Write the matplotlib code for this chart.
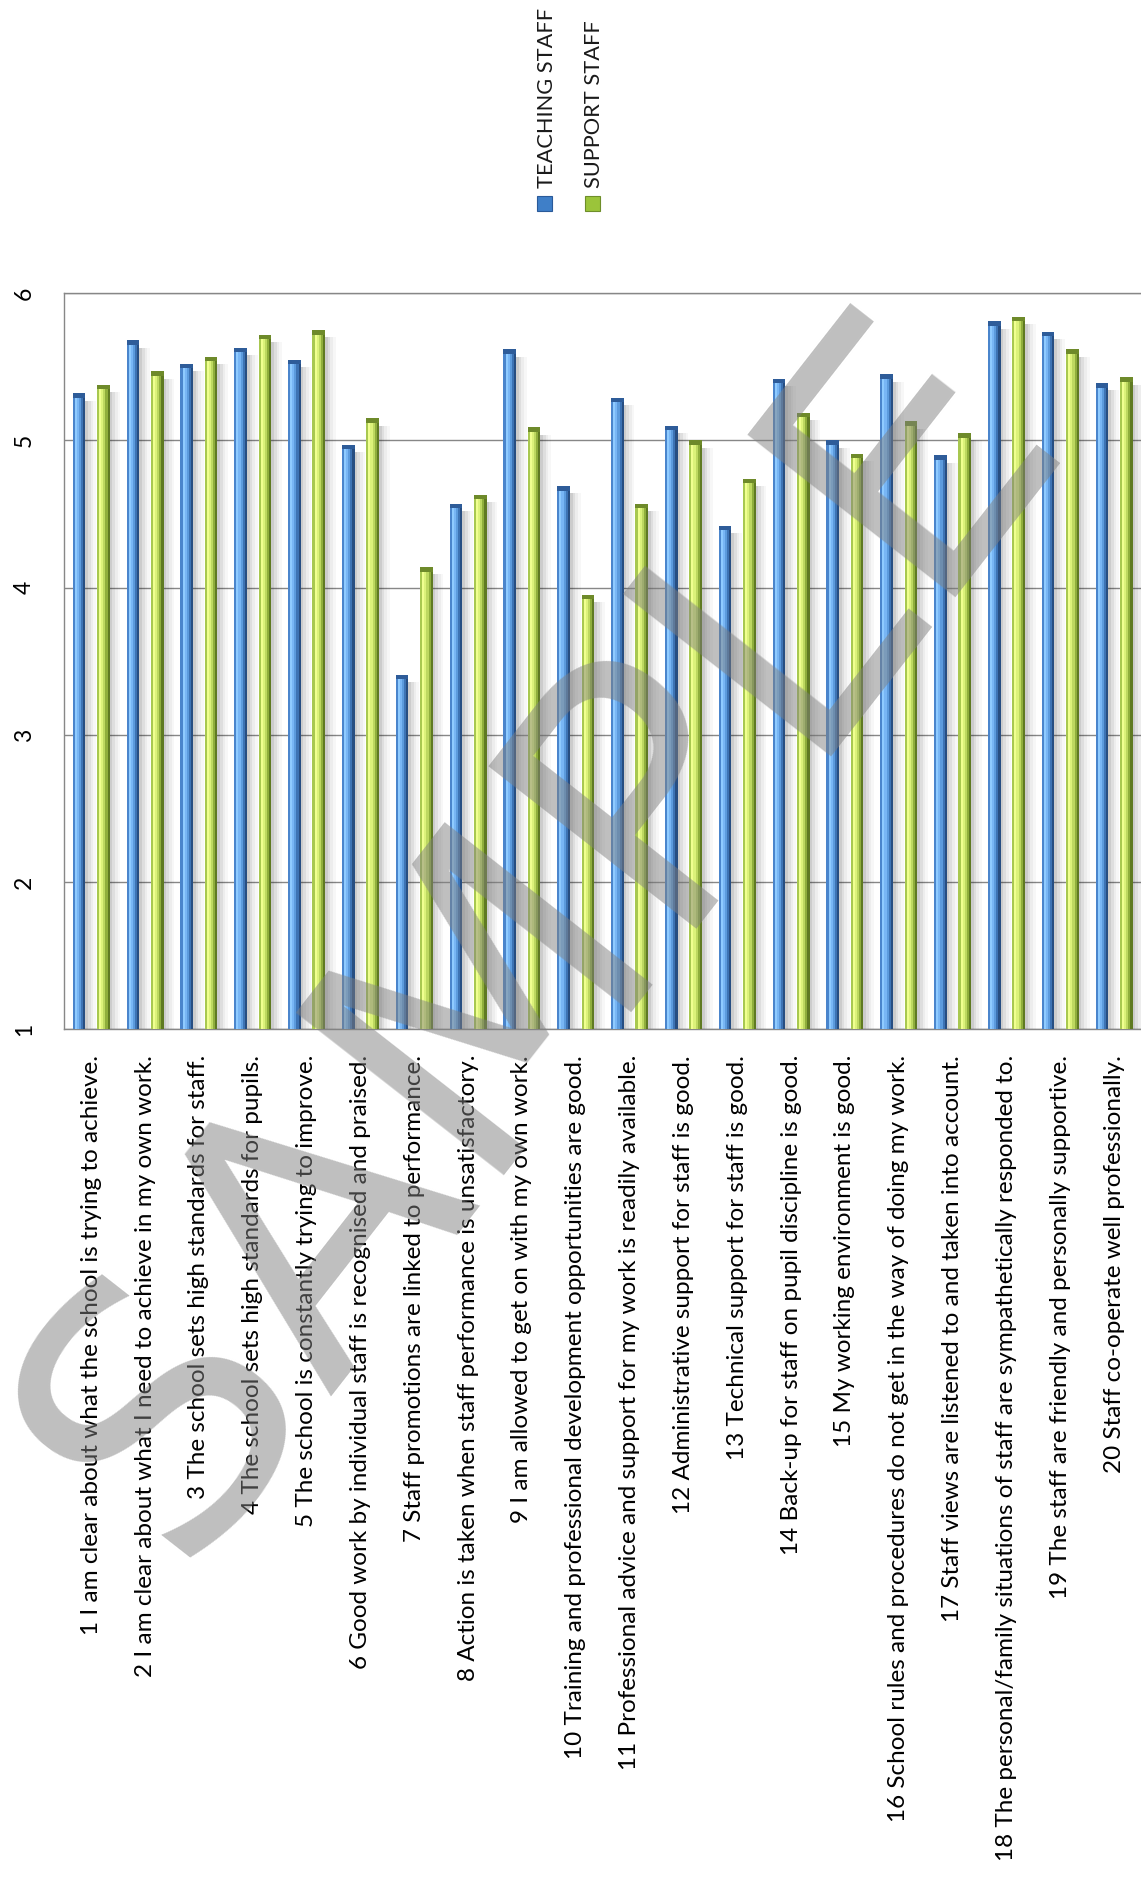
import numpy as np
import matplotlib
matplotlib.use('Agg')
import matplotlib.pyplot as plt
from matplotlib.patches import Rectangle

# survey statements (x axis) and mean scores for both groups
categories = [
    "1 I am clear about what the school is trying to achieve.",
    "2 I am clear about what I need to achieve in my own work.",
    "3 The school sets high standards for staff.",
    "4 The school sets high standards for pupils.",
    "5 The school is constantly trying to improve.",
    "6 Good work by individual staff is recognised and praised.",
    "7 Staff promotions are linked to performance.",
    "8 Action is taken when staff performance is unsatisfactory.",
    "9 I am allowed to get on with my own work.",
    "10 Training and professional development opportunities are good.",
    "11 Professional advice and support for my work is readily available.",
    "12 Administrative support for staff is good.",
    "13 Technical support for staff is good.",
    "14 Back-up for staff on pupil discipline is good.",
    "15 My working environment is good.",
    "16 School rules and procedures do not get in the way of doing my work.",
    "17 Staff views are listened to and taken into account.",
    "18 The personal/family situations of staff are sympathetically responded to.",
    "19 The staff are friendly and personally supportive.",
    "20 Staff co-operate well professionally.",
]
teaching = [5.32, 5.68, 5.52, 5.63, 5.55, 4.97, 3.41, 4.57, 5.62, 4.69,
            5.29, 5.10, 4.42, 5.42, 5.00, 5.45, 4.90, 5.81, 5.74, 5.39]
support = [5.38, 5.47, 5.57, 5.72, 5.75, 5.15, 4.14, 4.63, 5.09, 3.95,
           4.57, 5.00, 4.74, 5.19, 4.91, 5.13, 5.05, 5.84, 5.62, 5.43]
series_names = ["TEACHING STAFF", "SUPPORT STAFF"]
y_ticks = [1, 2, 3, 4, 5, 6]

W, H, DPI = 1141, 1879, 100
fig = plt.figure(figsize=(W / DPI, H / DPI), dpi=DPI)
ax_left, ax_top, ax_bot = 64.3, 293.3, 1029.3
ax = fig.add_axes([ax_left / W, 1 - ax_bot / H, 1 - ax_left / W, (ax_bot - ax_top) / H])

LABEL_FONT = ['Lato', 'DejaVu Sans']
GRID = '#878787'

# bar look: vertical strips from left to right + dark top cap
blue_cols = ['#4A85CC', '#8FCBFF', '#78B6F5', '#5C9BDD', '#3D73B4', '#274E82']
green_cols = ['#A8C850', '#F0FF90', '#DCF27A', '#BDD860', '#8FAE3C', '#5F7A22']
caps = ['#2E5C99', '#6E8A2A']

x = np.arange(len(categories))
BAR_W = 0.235
OFF = 0.226


def draw_series(xc, vals, cols, cap):
    vals = np.asarray(vals)
    n = len(cols)
    w = BAR_W / n
    # soft shadow to the right
    sw = 0.05
    for k, a in enumerate([0.20, 0.13, 0.07, 0.03]):
        ax.bar(xc + BAR_W / 2 + (k + 0.5) * sw, vals - 1 - 0.05, bottom=1,
               width=sw, color='k', alpha=a, linewidth=0, zorder=2)
    for k, c in enumerate(cols):
        ax.bar(xc - BAR_W / 2 + (k + 0.5) * w, vals - 1, bottom=1, width=w,
               color=c, linewidth=0, zorder=3)
    ax.bar(xc, 0.03, bottom=vals - 0.03, width=BAR_W, color=cap,
           linewidth=0, zorder=4)


draw_series(x - OFF, teaching, blue_cols, caps[0])
draw_series(x + OFF, support, green_cols, caps[1])

ax.set_xlim(-0.5, len(categories) - 0.5)
ax.set_ylim(1, 6)
ax.set_yticks(y_ticks)
ax.yaxis.grid(True, color=GRID, linewidth=1.0, zorder=1)
ax.set_axisbelow(True)
for s in ['left', 'bottom', 'top']:
    ax.spines[s].set_color(GRID)
    ax.spines[s].set_linewidth(1.0)
ax.spines['right'].set_visible(False)

# fit label font so that the longest label matches the reference length
fig.canvas.draw()
rend = fig.canvas.get_renderer()


def fit_size(text, target_px, family):
    t = fig.text(0, 0, text, fontsize=10, family=family)
    w = t.get_window_extent(rend).width
    t.remove()
    return 10 * target_px / w


lab_fs = fit_size(categories[17], 807, LABEL_FONT)
ax.set_xticks(x)
ax.set_xticklabels(categories, rotation=90, fontsize=lab_fs, family=LABEL_FONT)
ax.set_yticks(y_ticks)
ax.set_yticklabels([str(v) for v in y_ticks], rotation=90, fontsize=16.5,
                   family=LABEL_FONT, va='center')
ax.tick_params(axis='x', length=0, pad=18.5)
ax.tick_params(axis='y', length=0, pad=21)

# legend drawn by hand (rotated text)
leg_fs = fit_size(series_names[0], 178, LABEL_FONT)
leg_x = [544.5, 592.0]
mark_cols = [('#3F7FC8', '#2A5A99'), ('#9BC43A', '#6E8E2A')]
for name, lx, (fc, ec) in zip(series_names, leg_x, mark_cols):
    fig.add_artist(Rectangle(((lx - 7.5) / W, 1 - 211 / H), 15 / W, 15 / H,
                             transform=fig.transFigure, facecolor=fc,
                             edgecolor=ec, linewidth=0.8))
    fig.text((lx + 2.5) / W, 1 - 188 / H, name, rotation=90, ha='center',
             va='bottom', fontsize=leg_fs, family=LABEL_FONT, color='#1a1a1a')

# watermark
fig.text(1066 / W, 1 - 425 / H, 'SAMPLE', fontsize=261, rotation=52,
         rotation_mode='anchor', ha='right', va='baseline', color='0.5',
         alpha=0.5, family='DejaVu Sans', zorder=10)

fig.savefig('out.png', dpi=DPI)
